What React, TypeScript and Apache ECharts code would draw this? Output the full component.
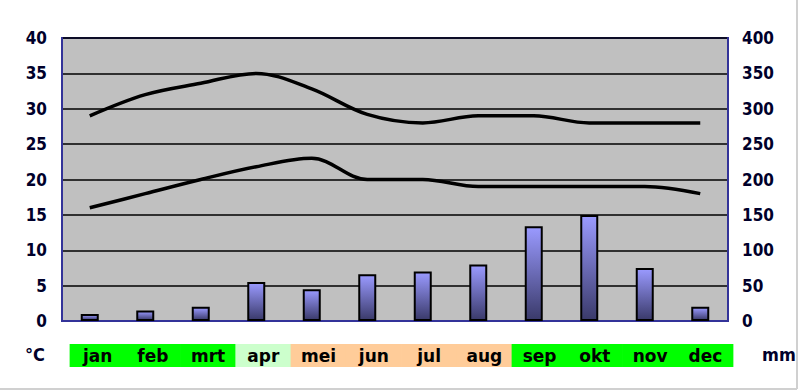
import React, { useEffect, useRef } from "react";
import * as echarts from "echarts";

const months = ["jan", "feb", "mrt", "apr", "mei", "jun", "jul", "aug", "sep", "okt", "nov", "dec"];
const monthColors = ["#00ff00", "#00ff00", "#00ff00", "#ccffcc", "#ffcc99", "#ffcc99", "#ffcc99", "#ffcc99", "#00ff00", "#00ff00", "#00ff00", "#00ff00"];
const maxTemp = [29, 32, 33.6, 35, 32.8, 29.2, 28, 29, 29, 28, 28, 28];
const minTemp = [16, 18, 20, 21.8, 23, 20, 20, 19, 19, 19, 19, 18];
const rain = [10, 15, 20, 55, 45, 66, 70, 80, 134, 150, 75, 20];
const tempTicks = { min: 0, max: 40, interval: 5 };
const rainTicks = { min: 0, max: 400, interval: 50 };

export default function App() {
  const ref = useRef<HTMLDivElement>(null);
  useEffect(() => {
    if (!ref.current) return;
    const chart = echarts.init(ref.current, undefined, { renderer: "svg" });
    const axisFont = "'DejaVu Sans Condensed', 'DejaVu Sans', sans-serif";
    const labelFont = { fontFamily: axisFont, fontWeight: "bold", fontSize: 17, color: "#00002a" };
    const rich: Record<string, any> = {};
    months.forEach((m, i) => {
      rich["c" + i] = {
        backgroundColor: monthColors[i],
        width: 56,
        height: 23,
        lineHeight: 23,
        align: "center",
        fontFamily: "'DejaVu Sans', sans-serif",
        fontWeight: "bold",
        fontSize: 17,
        color: "#000",
      };
    });
    chart.setOption({
      animation: false,
      backgroundColor: "#ffffff",
      grid: [
        { left: 62, right: 72, top: 38, bottom: 70, show: true, backgroundColor: "#c0c0c0", borderColor: "#333399", borderWidth: 2 },
        { left: 70, right: 67, top: 330, height: 10, show: false },
      ],
      xAxis: [
        {
          type: "category",
          data: months,
          gridIndex: 0,
          axisLine: { show: true, lineStyle: { color: "#333399", width: 2 } },
          axisTick: { show: false },
          axisLabel: { show: false },
        },
        {
          type: "category",
          data: months,
          gridIndex: 1,
          position: "bottom",
          axisLine: { show: false },
          axisTick: { show: false },
          axisLabel: {
            margin: 4,
            interval: 0,
            formatter: (v: string, i: number) => `{c${i}|${v}}`,
            rich,
          },
        },
      ],
      yAxis: [
        {
          type: "value",
          gridIndex: 0,
          ...tempTicks,
          axisLine: { show: true, lineStyle: { color: "#333399", width: 2 } },
          axisTick: { show: false },
          splitLine: { show: true, lineStyle: { color: "#000", width: 1.5 } },
          axisLabel: { ...labelFont, margin: 15 },
        },
        {
          type: "value",
          gridIndex: 0,
          position: "right",
          ...rainTicks,
          axisLine: { show: true, lineStyle: { color: "#333399", width: 2 } },
          axisTick: { show: false },
          splitLine: { show: false },
          axisLabel: { ...labelFont, margin: 14 },
        },
        { type: "value", gridIndex: 1, show: false },
      ],
      series: [
        {
          type: "bar",
          data: rain,
          yAxisIndex: 1,
          barWidth: 18,
          itemStyle: {
            borderColor: "#000",
            borderWidth: 2,
            color: new echarts.graphic.LinearGradient(0, 0, 0, 1, [
              { offset: 0, color: "#9a9aff" },
              { offset: 1, color: "#3a3a6a" },
            ]),
          },
        },
        {
          type: "line",
          data: maxTemp,
          yAxisIndex: 0,
          smooth: 0.35,
          symbol: "none",
          lineStyle: { color: "#000", width: 3.5 },
        },
        {
          type: "line",
          data: minTemp,
          yAxisIndex: 0,
          smooth: 0.35,
          symbol: "none",
          lineStyle: { color: "#000", width: 3.5 },
        },
      ],
      graphic: [
        { type: "text", left: 25, top: 345, style: { text: "°C", fontFamily: axisFont, fontWeight: "bold", fontSize: 18, fill: "#00002a" } },
        { type: "text", left: 762, top: 345, style: { text: "mm", fontFamily: axisFont, fontWeight: "bold", fontSize: 18, fill: "#00002a" } },
        { type: "line", shape: { x1: 797, y1: 0, x2: 797, y2: 389 }, style: { stroke: "#d0d0d0", lineWidth: 2 } },
        { type: "line", shape: { x1: 0, y1: 389, x2: 797, y2: 389 }, style: { stroke: "#d0d0d0", lineWidth: 2 } },
      ],
    });
    return () => chart.dispose();
  }, []);
  return <div ref={ref} style={{ position: "fixed", left: 0, top: 0, width: 800, height: 391 }} />;
}
